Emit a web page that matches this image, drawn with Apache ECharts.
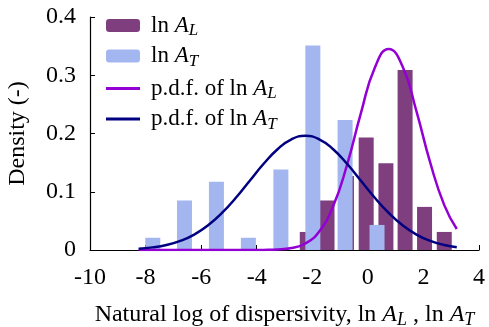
<!DOCTYPE html>
<html>
<head>
<meta charset="utf-8">
<script src="https://cdn.jsdelivr.net/npm/echarts@6/dist/echarts.min.js"></script>
<style>
  html, body { margin: 0; padding: 0; background: #fff; }
  #chart { width: 489px; height: 327px; }
</style>
</head>
<body>
<div id="chart"></div>
<script>
// histogram of ln A_L (bin centre, density)
const binsL = [-2.18, -1.47, -0.77, -0.06, 0.65, 1.34, 2.04, 2.75];
const densL = [0.031, 0.085, 0.127, 0.193, 0.149, 0.309, 0.074, 0.031];

// histogram of ln A_T
const binsT = [-7.74, -6.6, -5.45, -4.3, -3.13, -1.98, -0.82, 0.33];
const densT = [0.021, 0.085, 0.117, 0.021, 0.138, 0.351, 0.223, 0.043];

// fitted p.d.f. curves
const pdfX = [-8.25, -7.75, -7.25, -6.75, -6.25, -5.75, -5.25, -4.75, -4.25, -3.75, -3.25, -2.75, -2.25, -1.75, -1.25, -0.75, -0.25, 0.25, 0.75, 1.25, 1.75, 2.25, 2.75, 3.2];
const pdfL = [0, 0, 0, 0, 0, 0, 0, 0, 0, 0.0002, 0.0008, 0.0033, 0.0112, 0.0319, 0.075, 0.146, 0.235, 0.313, 0.345, 0.315, 0.238, 0.149, 0.077, 0.036];
const pdfT = [0.0022, 0.0045, 0.0086, 0.0156, 0.0265, 0.0424, 0.0636, 0.0897, 0.119, 0.148, 0.173, 0.19, 0.196, 0.19, 0.173, 0.148, 0.119, 0.0897, 0.0636, 0.0424, 0.0265, 0.0156, 0.0086, 0.0048];

const xTicks = [-10, 4, 2];   // min, max, step
const yTicks = [0, 0.4, 0.1];

const FONT = 'Liberation Serif';
const purpleBar = '#7f3f7e';
const blueBar = '#a3b6f0';
const purpleLine = '#9400d3';
const blueLine = '#000080';

const zip = (xs, ys) => xs.map((x, i) => [x, ys[i]]);

function richSet(size) {
  return {
    n: { fontFamily: FONT, fontSize: size, color: '#000', lineHeight: 28 },
    i: { fontFamily: FONT, fontSize: size, fontStyle: 'italic', color: '#000', lineHeight: 28 },
    s: { fontFamily: FONT, fontSize: Math.round(size * 0.75), fontStyle: 'italic', color: '#000',
         lineHeight: 14, verticalAlign: 'bottom' }
  };
}

const legendNames = {
  'lnAL': '{n|ln }{i|A}{s|L}',
  'lnAT': '{n|ln }{i|A}{s|T}',
  'pdfL': '{n|p.d.f. of ln }{i|A}{s|L}',
  'pdfT': '{n|p.d.f. of ln }{i|A}{s|T}'
};

const legendBase = {
  orient: 'vertical',
  left: 101,
  itemWidth: 34,
  itemGap: 5,
  formatter: (name) => legendNames[name],
  textStyle: { rich: richSet(23), padding: [0, 0, 0, 6] }
};

const chart = echarts.init(document.getElementById('chart'));

const option = {
  animation: false,
  textStyle: { fontFamily: FONT },
  grid: { left: 90, right: 10, top: 17, bottom: 77, containLabel: false, outerBoundsMode: 'none' },
  legend: [
    Object.assign({}, legendBase, { top: 9, itemHeight: 13, data: ['lnAL', 'lnAT'] }),
    Object.assign({}, legendBase, {
      top: 72, itemHeight: 3, icon: 'rect',
      data: [{ name: 'pdfL', icon: 'rect' }, { name: 'pdfT', icon: 'rect' }]
    })
  ],
  xAxis: {
    type: 'value',
    min: xTicks[0],
    max: xTicks[1],
    interval: xTicks[2],
    name: '{n|Natural log of dispersivity, ln }{i|A}{s|L}{n| , ln }{i|A}{s|T}',
    nameLocation: 'middle',
    nameGap: 51,
    nameTextStyle: { rich: richSet(24) },
    axisLine: { onZero: false, lineStyle: { color: '#000', width: 1.2 } },
    axisTick: { inside: true, length: 5, lineStyle: { color: '#000' } },
    axisLabel: { fontFamily: FONT, fontSize: 24, color: '#000', margin: 16 },
    splitLine: { show: false }
  },
  yAxis: {
    type: 'value',
    min: yTicks[0],
    max: yTicks[1],
    interval: yTicks[2],
    name: 'Density (-)',
    nameLocation: 'middle',
    nameGap: 60,
    nameTextStyle: { fontFamily: FONT, fontSize: 24, color: '#000' },
    axisLine: { show: true, onZero: false, lineStyle: { color: '#000', width: 1.2 } },
    axisTick: { show: true, inside: true, length: 5, lineStyle: { color: '#000' } },
    axisLabel: {
      fontFamily: FONT, fontSize: 24, color: '#000', margin: 14,
      formatter: (v) => (v === 0 ? '0' : v.toFixed(1))
    },
    splitLine: { show: false }
  },
  series: [
    {
      name: 'lnAL',
      type: 'bar',
      data: zip(binsL, densL),
      barWidth: 15,
      barGap: '-100%',
      itemStyle: { color: purpleBar }
    },
    {
      name: 'lnAT',
      type: 'bar',
      data: zip(binsT, densT),
      barWidth: 15,
      barGap: '-100%',
      itemStyle: { color: blueBar }
    },
    {
      name: 'pdfL',
      type: 'line',
      data: zip(pdfX, pdfL),
      smooth: true,
      symbol: 'none',
      lineStyle: { color: purpleLine, width: 2.5 },
      itemStyle: { color: purpleLine }
    },
    {
      name: 'pdfT',
      type: 'line',
      data: zip(pdfX, pdfT),
      smooth: true,
      symbol: 'none',
      lineStyle: { color: blueLine, width: 2.5 },
      itemStyle: { color: blueLine }
    }
  ]
};

chart.setOption(option);
</script>
</body>
</html>
